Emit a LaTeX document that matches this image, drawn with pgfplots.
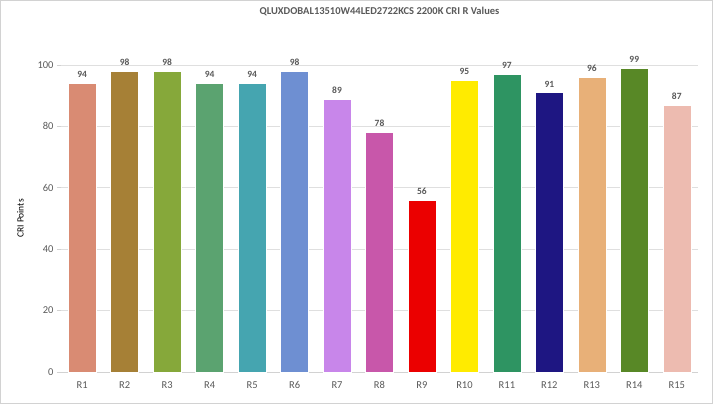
\documentclass[border=0pt]{standalone}
\usepackage{fontspec}
\setmainfont{Carlito}
\usepackage{pgfplots}
\pgfplotsset{compat=1.18}
\definecolor{txt}{HTML}{595959}
\definecolor{c1}{HTML}{D98B73}
\definecolor{c2}{HTML}{A68036}
\definecolor{c3}{HTML}{86A83A}
\definecolor{c4}{HTML}{5BA370}
\definecolor{c5}{HTML}{45A5B0}
\definecolor{c6}{HTML}{6E8FD2}
\definecolor{c7}{HTML}{C886EA}
\definecolor{c8}{HTML}{C857AA}
\definecolor{c9}{HTML}{EB0000}
\definecolor{c10}{HTML}{FFEB00}
\definecolor{c11}{HTML}{2E9462}
\definecolor{c12}{HTML}{1E1682}
\definecolor{c13}{HTML}{E8B078}
\definecolor{c14}{HTML}{588826}
\definecolor{c15}{HTML}{EDBBB0}
\begin{document}
\begin{tikzpicture}
\begin{axis}[
  scale only axis,
  width=637pt, height=307pt,
  ybar, bar width=28pt, bar shift=0pt,
  xmin=0.5, xmax=15.5,
  ymin=0, ymax=100,
  xtick={1,...,15},
  xticklabels={R1,R2,R3,R4,R5,R6,R7,R8,R9,R10,R11,R12,R13,R14,R15},
  ytick={0,20,...,100},
  ymajorgrids,
  grid style={gray!25, line width=0.6pt},
  axis x line*=bottom,
  axis y line*=left,
  y axis line style={draw=none},
  x axis line style={gray!35, line width=0.8pt},
  xtick style={draw=none},
  ytick style={gray!35, line width=0.6pt},
  tick align=outside,
  major tick length=4pt,
  ticklabel style={font=\fontsize{10.5}{12}\selectfont, text=txt},
  /pgf/number format/assume math mode=true,
  xticklabel style={yshift=-2pt},
  ylabel={CRI Points},
  ylabel style={font=\fontsize{9.5}{11}\selectfont, text=black},
  ylabel shift=7pt,
  title={QLUXDOBAL13510W44LED2722KCS 2200K CRI R Values},
  title style={font=\bfseries\fontsize{10.5}{12}\selectfont, text=txt, at={(0.5,1)}, anchor=center, yshift=48pt},
  nodes near coords,
  every node near coord/.append style={font=\bfseries\fontsize{9.5}{11}\selectfont, text=txt, yshift=2pt},
  clip=false,
]
\addplot[fill=c1, draw=white] coordinates {(1,94)};
\addplot[fill=c2, draw=white] coordinates {(2,98)};
\addplot[fill=c3, draw=white] coordinates {(3,98)};
\addplot[fill=c4, draw=white] coordinates {(4,94)};
\addplot[fill=c5, draw=white] coordinates {(5,94)};
\addplot[fill=c6, draw=white] coordinates {(6,98)};
\addplot[fill=c7, draw=white] coordinates {(7,89)};
\addplot[fill=c8, draw=white] coordinates {(8,78)};
\addplot[fill=c9, draw=white] coordinates {(9,56)};
\addplot[fill=c10, draw=white] coordinates {(10,95)};
\addplot[fill=c11, draw=white] coordinates {(11,97)};
\addplot[fill=c12, draw=white] coordinates {(12,91)};
\addplot[fill=c13, draw=white] coordinates {(13,96)};
\addplot[fill=c14, draw=white] coordinates {(14,99)};
\addplot[fill=c15, draw=white] coordinates {(15,87)};
\end{axis}
\draw[gray!35, line width=0.8pt] (-60.6pt,-31.6pt) rectangle (651.6pt,371.6pt);
\path[use as bounding box] (-61pt,-32pt) rectangle (652pt,372pt);
\end{tikzpicture}
\end{document}
